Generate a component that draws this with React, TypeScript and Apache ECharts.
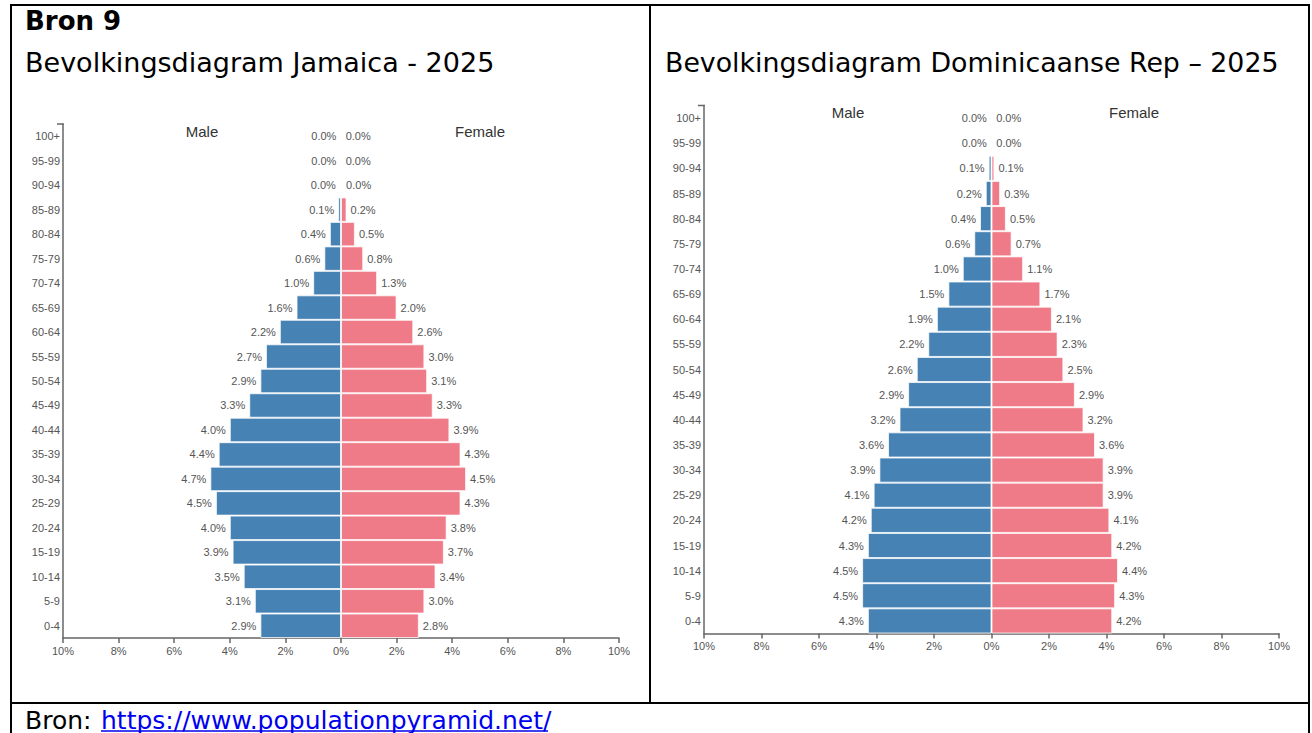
import React, { useEffect, useRef } from "react";
import * as echarts from "echarts";

const ages = ["0-4", "5-9", "10-14", "15-19", "20-24", "25-29", "30-34", "35-39", "40-44", "45-49", "50-54", "55-59", "60-64", "65-69", "70-74", "75-79", "80-84", "85-89", "90-94", "95-99", "100+"];

const jamaicaMale = [2.9, 3.1, 3.5, 3.9, 4.0, 4.5, 4.7, 4.4, 4.0, 3.3, 2.9, 2.7, 2.2, 1.6, 1.0, 0.6, 0.4, 0.1, 0.04, 0.01, 0.01];
const jamaicaFemale = [2.8, 3.0, 3.4, 3.7, 3.8, 4.3, 4.5, 4.3, 3.9, 3.3, 3.1, 3.0, 2.6, 2.0, 1.3, 0.8, 0.5, 0.2, 0.04, 0.01, 0.01];

const domMale = [4.3, 4.5, 4.5, 4.3, 4.2, 4.1, 3.9, 3.6, 3.2, 2.9, 2.6, 2.2, 1.9, 1.5, 1.0, 0.6, 0.4, 0.2, 0.1, 0.02, 0.01];
const domFemale = [4.2, 4.3, 4.4, 4.2, 4.1, 3.9, 3.9, 3.6, 3.2, 2.9, 2.5, 2.3, 2.1, 1.7, 1.1, 0.7, 0.5, 0.3, 0.1, 0.02, 0.01];

const MALE_COLOR = "#4682b4";
const FEMALE_COLOR = "#f07b88";
const CHART_FONT = "Liberation Sans, Arial, sans-serif";
const TITLE_FONT = "DejaVu Sans, Verdana, sans-serif";

const grids = [
  { left: 63, top: 124, width: 556, height: 514 },
  { left: 704, top: 105.5, width: 575, height: 528 },
];

function barSeries(idx: number, values: number[], male: boolean) {
  return {
    type: "bar",
    xAxisIndex: idx,
    yAxisIndex: idx,
    data: values.map((v) => (male ? -v : v)),
    barCategoryGap: "0%",
    barGap: "-100%",
    itemStyle: {
      color: male ? MALE_COLOR : FEMALE_COLOR,
      borderColor: "rgba(255,255,255,0.75)",
      borderWidth: 1,
    },
    label: {
      show: true,
      position: male ? "left" : "right",
      distance: 4,
      fontSize: 11,
      color: "#555",
      fontFamily: CHART_FONT,
      formatter: (p: any) => Math.abs(p.value).toFixed(1) + "%",
    },
  };
}

export default function App() {
  const ref = useRef<HTMLDivElement>(null);
  useEffect(() => {
    if (!ref.current) return;
    const chart = echarts.init(ref.current, null, { renderer: "svg" });
    const xAxes = grids.map((_, i) => ({
      type: "value",
      gridIndex: i,
      min: -10,
      max: 10,
      interval: 2,
      splitLine: { show: false },
      axisLine: { show: true, onZero: false, lineStyle: { color: "#666", width: 1.5 } },
      axisTick: { show: true, length: 5, lineStyle: { color: "#666", width: 1.5 } },
      axisLabel: {
        fontSize: 11,
        color: "#555",
        fontFamily: CHART_FONT,
        margin: 7,
        formatter: (v: number) => Math.abs(v) + "%",
      },
    }));
    const yAxes = grids.map((_, i) => ({
      type: "category",
      gridIndex: i,
      data: ages,
      axisLine: { show: true, onZero: false, lineStyle: { color: "#666", width: 1.5 } },
      axisTick: { show: false },
      axisLabel: { fontSize: 11, color: "#555", fontFamily: CHART_FONT, margin: 3 },
      splitLine: { show: false },
    }));
    const black = { stroke: "#000", lineWidth: 2 };
    const option: any = {
      animation: false,
      grid: grids,
      xAxis: xAxes,
      yAxis: yAxes,
      series: [
        barSeries(0, jamaicaMale, true),
        barSeries(0, jamaicaFemale, false),
        barSeries(1, domMale, true),
        barSeries(1, domFemale, false),
      ],
      graphic: [
        { type: "line", shape: { x1: 10, y1: 5, x2: 1310, y2: 5 }, style: black },
        { type: "line", shape: { x1: 11, y1: 4, x2: 11, y2: 733 }, style: black },
        { type: "line", shape: { x1: 1309, y1: 4, x2: 1309, y2: 733 }, style: black },
        { type: "line", shape: { x1: 650, y1: 5, x2: 650, y2: 703 }, style: black },
        { type: "line", shape: { x1: 10, y1: 703, x2: 1310, y2: 703 }, style: black },
        { type: "line", shape: { x1: grids[0].left - 6, y1: grids[0].top, x2: grids[0].left + 0.75, y2: grids[0].top }, style: { stroke: "#666", lineWidth: 1.5 } },
        { type: "line", shape: { x1: grids[1].left - 6, y1: grids[1].top, x2: grids[1].left + 0.75, y2: grids[1].top }, style: { stroke: "#666", lineWidth: 1.5 } },
        { type: "text", x: 25, y: 21, style: { text: "Bron 9", font: "bold 26px " + TITLE_FONT, fill: "#000", verticalAlign: "middle" } },
        { type: "text", x: 25, y: 62, style: { text: "Bevolkingsdiagram Jamaica - 2025", font: "27px " + TITLE_FONT, fill: "#000", verticalAlign: "middle" } },
        { type: "text", x: 665, y: 62, style: { text: "Bevolkingsdiagram Dominicaanse Rep \u2013 2025", font: "26.8px " + TITLE_FONT, fill: "#000", verticalAlign: "middle" } },
        { type: "text", x: 202, y: 131, style: { text: "Male", font: "15px " + CHART_FONT, fill: "#333", align: "center", verticalAlign: "middle" } },
        { type: "text", x: 480, y: 131, style: { text: "Female", font: "15px " + CHART_FONT, fill: "#333", align: "center", verticalAlign: "middle" } },
        { type: "text", x: 848, y: 112, style: { text: "Male", font: "15px " + CHART_FONT, fill: "#333", align: "center", verticalAlign: "middle" } },
        { type: "text", x: 1134, y: 112, style: { text: "Female", font: "15px " + CHART_FONT, fill: "#333", align: "center", verticalAlign: "middle" } },
        { type: "text", x: 25, y: 720, style: { text: "Bron: ", font: "25px " + TITLE_FONT, fill: "#000", verticalAlign: "middle" } },
        { type: "text", x: 101, y: 720, style: { text: "https://www.populationpyramid.net/", font: "25px " + TITLE_FONT, fill: "#0000ee", verticalAlign: "middle" } },
        { type: "line", shape: { x1: 101, y1: 731, x2: 548, y2: 731 }, style: { stroke: "#0000ee", lineWidth: 1.5 } },
      ],
    };
    chart.setOption(option);
    return () => chart.dispose();
  }, []);
  return (
    <div
      ref={ref}
      style={{ position: "absolute", left: 0, top: 0, width: 1312, height: 733, background: "#fff" }}
    />
  );
}
